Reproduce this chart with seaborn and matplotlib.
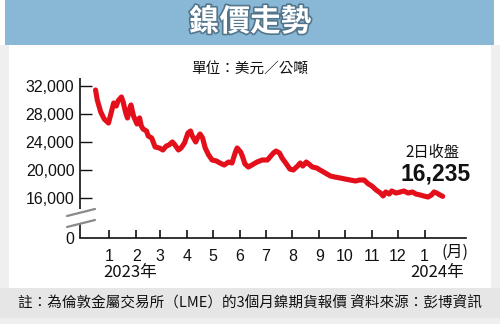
import matplotlib
matplotlib.use("Agg")
import matplotlib.pyplot as plt
import matplotlib.patheffects as pe
from matplotlib.patches import Rectangle
from matplotlib.lines import Line2D
import seaborn as sns
import pandas as pd

# ---- data ----
dates = [
    "2022-12-27", "2022-12-29", "2023-01-02", "2023-01-06", "2023-01-11", "2023-01-14",
    "2023-01-17", "2023-01-20", "2023-01-22", "2023-01-26", "2023-01-28", "2023-01-31",
    "2023-02-02", "2023-02-04", "2023-02-06", "2023-02-09", "2023-02-11", "2023-02-13",
    "2023-02-16", "2023-02-18", "2023-02-20", "2023-02-24", "2023-02-26", "2023-03-02",
    "2023-03-06", "2023-03-11", "2023-03-15", "2023-03-19", "2023-03-22", "2023-03-26",
    "2023-03-29", "2023-04-02", "2023-04-05", "2023-04-09", "2023-04-13", "2023-04-16",
    "2023-04-18", "2023-04-22", "2023-04-24", "2023-04-27", "2023-04-30", "2023-05-03",
    "2023-05-07", "2023-05-11", "2023-05-16", "2023-05-20", "2023-05-25", "2023-05-30",
    "2023-06-03", "2023-06-07", "2023-06-09", "2023-06-13", "2023-06-15", "2023-06-18",
    "2023-06-22", "2023-06-26", "2023-07-02", "2023-07-08", "2023-07-14", "2023-07-17",
    "2023-07-21", "2023-07-24", "2023-07-28", "2023-07-31", "2023-08-05", "2023-08-09",
    "2023-08-13", "2023-08-18", "2023-08-21", "2023-08-24", "2023-08-28", "2023-08-31",
    "2023-09-04", "2023-09-09", "2023-09-13", "2023-09-19", "2023-09-25", "2023-09-30",
    "2023-10-06", "2023-10-12", "2023-10-18", "2023-10-24", "2023-10-29", "2023-11-03",
    "2023-11-08", "2023-11-12", "2023-11-17", "2023-11-22", "2023-11-25", "2023-11-28",
    "2023-12-02", "2023-12-05", "2023-12-10", "2023-12-15", "2023-12-19", "2023-12-24",
    "2023-12-29", "2024-01-02", "2024-01-07", "2024-01-11", "2024-01-16", "2024-01-20",
    "2024-01-23", "2024-01-26", "2024-01-30", "2024-02-02",
]
prices = [
    31430, 30000, 28290, 27290, 26710, 28140,
    29570, 29140, 29860, 30430, 29710, 28140,
    27430, 28570, 29290, 27710, 27140, 26570,
    27430, 26290, 25860, 25570, 24860, 24570,
    23290, 23140, 22860, 23430, 23570, 24000,
    23570, 22860, 23140, 23860, 25290, 25570,
    24860, 24000, 24570, 25140, 24570, 23140,
    22140, 21430, 21290, 21000, 20710, 21140,
    21000, 22570, 23140, 22570, 22000, 20860,
    20430, 20710, 21140, 21430, 21430, 21860,
    22430, 22710, 22430, 21710, 20860, 20140,
    20000, 20570, 21000, 20570, 21140, 20860,
    20430, 20290, 20000, 19570, 19140, 19000,
    18860, 18710, 18570, 18430, 18570, 18570,
    18000, 17710, 17140, 16710, 16290, 16860,
    16570, 17000, 16710, 16860, 17000, 16710,
    16860, 16570, 16430, 16290, 16140, 16430,
    16860, 16710, 16430, 16235,
]
ytick_values = [16000, 20000, 24000, 28000, 32000]
ytick_labels = ["16,000", "20,000", "24,000", "28,000", "32,000"]
month_labels = ["1", "2", "3", "4", "5", "6", "7", "8", "9", "10", "11", "12", "1"]
title = "鎳價走勢"
unit = "單位：美元／公噸"
close_label = "2日收盤"
close_value = "16,235"
note = "註：為倫敦金屬交易所（LME）的3個月鎳期貨報價 資料來源：彭博資訊"

df = pd.DataFrame({"date": pd.to_datetime(dates), "price": prices})

sns.set_theme(style="white")
plt.rcParams["font.family"] = ["Liberation Sans", "Noto Sans CJK TC", "DejaVu Sans"]
CJK = ["Noto Sans CJK TC", "Liberation Sans", "DejaVu Sans"]

W, H = 500, 324
fig = plt.figure(figsize=(W / 100, H / 100), dpi=100)
fig.patch.set_facecolor("white")


def fx(px):
    return px / W


def fy(py):
    return 1 - py / H


def rect(x0, y0, x1, y1, color):
    fig.patches.append(Rectangle((fx(x0), fy(y1)), fx(x1) - fx(x0), fy(y0) - fy(y1),
                                 transform=fig.transFigure, color=color, zorder=0, lw=0))


# background panels
rect(0, 45, 9, 324, "#efefef")
rect(491, 45, 500, 324, "#efefef")
rect(0, 318, 500, 324, "#efefef")
rect(5, 0, 494, 45, "#88b8d6")
rect(0, 288, 500, 318, "#e6e6e6")

fig.text(0.5, fy(22), title, ha="center", va="center", fontsize=22, fontweight="bold",
         color="white", family=CJK,
         path_effects=[pe.withStroke(linewidth=2.4, foreground="#52758c")])
fig.text(0.5, fy(70), unit, ha="center", va="center", fontsize=10.5, color="#111111", family=CJK)

# axes
ax = fig.add_axes([fx(80), fy(238), fx(466) - fx(80), fy(78) - fy(238)])
ax.set_facecolor("none")
sns.lineplot(data=df, x="date", y="price", ax=ax, color="#e3101b", lw=3.7)

ybottom = 32000 - (238 - 86) * 4000 / 28
ytop = 32000 + 8 * 4000 / 28
ax.set_ylim(ybottom, ytop)
ax.set_yticks([ybottom] + ytick_values)
ax.set_yticklabels(["0"] + ytick_labels)

ticks = pd.date_range("2023-01-01", "2024-01-01", freq="MS") + pd.Timedelta(days=11)
ax.set_xticks(ticks)
ax.set_xticklabels(month_labels)
ax.set_xlim(pd.Timestamp("2022-12-09"), pd.Timestamp("2024-02-29"))
ax.set_xlabel("")
ax.set_ylabel("")

for s in ["top", "right", "left"]:
    ax.spines[s].set_visible(False)
ax.spines["bottom"].set_color("#111111")
ax.spines["bottom"].set_linewidth(1.2)

ax.tick_params(axis="y", direction="in", length=8.5, width=1.0, color="#111111",
               labelsize=11.5, pad=4, left=True, labelcolor="#111111")
ax.tick_params(axis="x", direction="in", length=6, width=1.2, color="#111111",
               labelsize=11.5, pad=8, bottom=True, labelcolor="#111111")
# hide tick mark at "0"
ax.yaxis.get_major_ticks()[0].tick1line.set_visible(False)

# broken left spine
ax.plot([0, 0], [1, (238 - 209) / 160], transform=ax.transAxes, color="#111111",
        lw=1.2, clip_on=False, solid_capstyle="butt")
ax.plot([0, 0], [(238 - 224) / 160, 0], transform=ax.transAxes, color="#111111",
        lw=1.2, clip_on=False, solid_capstyle="butt")
for y_l, y_r in [(216, 209), (227, 220)]:
    fig.lines.append(Line2D([fx(67), fx(95)], [fy(y_l), fy(y_r)], transform=fig.transFigure,
                            color="#8a8a8a", lw=1.6))

# month unit and years
fig.text(fx(455), fy(252), "(月)", ha="center", va="center", fontsize=11.5,
         color="#111111", family=CJK)
fig.text(fx(103), fy(272), "2023年", ha="left", va="center", fontsize=12,
         color="#111111", family=CJK)
fig.text(fx(464), fy(272), "2024年", ha="right", va="center", fontsize=12,
         color="#111111", family=CJK)

# closing annotation
fig.text(fx(432), fy(152), close_label, ha="center", va="center", fontsize=11,
         color="#111111", family=CJK)
fig.text(fx(436), fy(174), close_value, ha="center", va="center", fontsize=16.5,
         fontweight="bold", color="#111111")

fig.text(0.5, fy(303), note, ha="center", va="center", fontsize=10.5, color="#111111",
         family=CJK)

fig.savefig("out.png", dpi=100, facecolor=fig.get_facecolor())
